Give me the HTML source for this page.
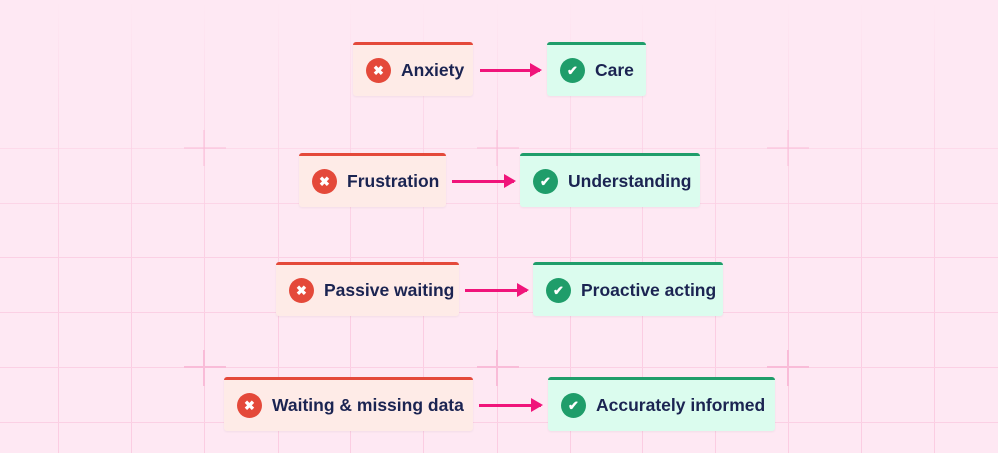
<!DOCTYPE html>
<html><head><style>
body{margin:0;width:998px;height:453px;overflow:hidden;background:#fee8f3;position:relative;font-family:"Liberation Sans",sans-serif}
.vl{position:absolute;top:0;bottom:0;width:1px;background:linear-gradient(to bottom,rgba(251,205,226,0) 0px,rgba(251,205,226,0.6) 120px,#fbcde2 300px)}
.hl{position:absolute;left:0;right:0;height:1px;background:#fbd0e4}
.pl{position:absolute;background:#f9bcd8}
.box{position:absolute;height:54px;border-top:3px solid;border-radius:3px;display:flex;align-items:center;box-sizing:border-box;padding-left:13px;font-weight:bold;font-size:17.5px;color:#1b2452;box-shadow:0 1px 2px rgba(0,0,0,0.05)}
.r{background:#feebe7;border-color:#e4493a}
.g{background:#dbfcee;border-color:#1f9d6a}
.ic{width:25px;height:25px;border-radius:50%;margin-right:10px;display:flex;align-items:center;justify-content:center;color:#fff;font-size:13px}
.r .ic{background:#e4493a}
.g .ic{background:#1f9d6a}
.arr{position:absolute;height:3px;background:#f0147a}
.arr:after{content:"";position:absolute;right:-2px;top:-6px;border-left:12px solid #f0147a;border-top:7.5px solid transparent;border-bottom:7.5px solid transparent}
</style></head><body>
<div class="vl" style="left:58px"></div><div class="vl" style="left:131px"></div><div class="vl" style="left:204px"></div><div class="vl" style="left:278px"></div><div class="vl" style="left:350px"></div><div class="vl" style="left:423px"></div><div class="vl" style="left:497px"></div><div class="vl" style="left:570px"></div><div class="vl" style="left:642px"></div><div class="vl" style="left:715px"></div><div class="vl" style="left:788px"></div><div class="vl" style="left:861px"></div><div class="vl" style="left:934px"></div>
<div class="hl" style="top:148px;opacity:.6"></div><div class="hl" style="top:203px;opacity:.8"></div><div class="hl" style="top:257px"></div><div class="hl" style="top:312px"></div><div class="hl" style="top:367px"></div><div class="hl" style="top:422px"></div>
<div class="pl" style="left:184px;top:147px;width:42px;height:2px;opacity:.5"></div><div class="pl" style="left:203px;top:130px;width:2px;height:36px;opacity:.5"></div>
<div class="pl" style="left:477px;top:147px;width:42px;height:2px;opacity:.5"></div><div class="pl" style="left:496px;top:130px;width:2px;height:36px;opacity:.5"></div>
<div class="pl" style="left:767px;top:147px;width:42px;height:2px;opacity:.5"></div><div class="pl" style="left:787px;top:130px;width:2px;height:36px;opacity:.5"></div>
<div class="pl" style="left:184px;top:366px;width:42px;height:2px"></div><div class="pl" style="left:203px;top:350px;width:2px;height:36px"></div>
<div class="pl" style="left:477px;top:366px;width:42px;height:2px"></div><div class="pl" style="left:496px;top:350px;width:2px;height:36px"></div>
<div class="pl" style="left:767px;top:366px;width:42px;height:2px"></div><div class="pl" style="left:787px;top:350px;width:2px;height:36px"></div>

<div class="box r" style="left:353px;top:42px;width:120px"><div class="ic">✖</div>Anxiety</div>
<div class="arr" style="left:480px;top:69px;width:60px"></div>
<div class="box g" style="left:547px;top:42px;width:99px"><div class="ic">✔</div>Care</div>

<div class="box r" style="left:299px;top:153px;width:147px"><div class="ic">✖</div>Frustration</div>
<div class="arr" style="left:452px;top:180px;width:62px"></div>
<div class="box g" style="left:520px;top:153px;width:180px"><div class="ic">✔</div>Understanding</div>

<div class="box r" style="left:276px;top:262px;width:183px"><div class="ic">✖</div>Passive waiting</div>
<div class="arr" style="left:465px;top:289px;width:62px"></div>
<div class="box g" style="left:533px;top:262px;width:190px"><div class="ic">✔</div>Proactive acting</div>

<div class="box r" style="left:224px;top:377px;width:249px"><div class="ic">✖</div>Waiting &amp; missing data</div>
<div class="arr" style="left:479px;top:404px;width:62px"></div>
<div class="box g" style="left:548px;top:377px;width:227px"><div class="ic">✔</div>Accurately informed</div>
</body></html>
